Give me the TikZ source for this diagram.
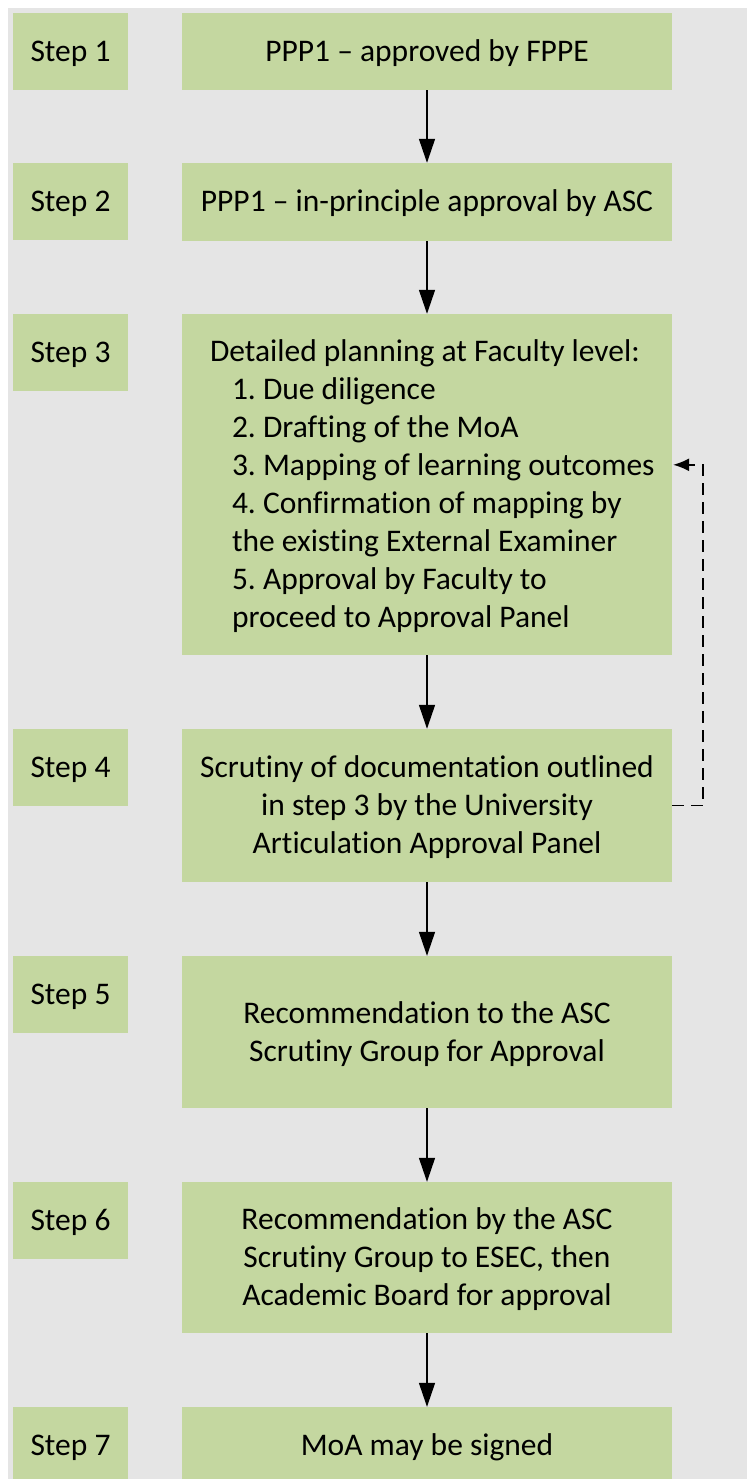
\documentclass[tikz,border=0pt]{standalone}
\usepackage{fontspec}
\setmainfont{Carlito}[Ligatures=NoCommon]
\usetikzlibrary{arrows.meta,calc}
\definecolor{boxgreen}{RGB}{196,215,160}
\definecolor{bggray}{RGB}{229,229,229}
\setlength\parindent{0pt}
\frenchspacing
\newcommand{\Sx}{\rule[-9pt]{0pt}{38pt}}
\newcommand{\Lx}[2]{\hbox to 490pt{\hspace*{#1}\Sx #2\hfil}}
\tikzset{
  txt/.style={font=\fontsize{31.5}{38}\selectfont, text=black},
  stepbox/.style={txt, fill=boxgreen, inner sep=0pt, minimum width=115pt, minimum height=77pt, align=center},
  mainbox/.style={txt, fill=boxgreen, inner sep=0pt, minimum width=490pt, align=center},
  flow/.style={line width=1.5pt, -{Triangle[length=24pt,width=16pt]}},
  back/.style={line width=1.5pt, dash pattern=on 12pt off 7pt, -{Latex[length=16pt,width=13pt]}}
}
\begin{document}
\begin{tikzpicture}[x=1pt,y=-1pt]
\useasboundingbox (0,0) rectangle (747,1479);
\clip (0,0) rectangle (747,1479);
\fill[bggray] (8,8) rectangle (747,1479);

% step labels
\node[stepbox] (s1) at (70.5,51.5) {\Sx Step 1};
\node[stepbox] (s2) at (70.5,202) {\Sx Step 2};
\node[stepbox] (s3) at (70.5,352.5) {\Sx Step 3};
\node[stepbox] (s4) at (70.5,767.5) {\Sx Step 4};
\node[stepbox] (s5) at (70.5,994.5) {\Sx Step 5};
\node[stepbox] (s6) at (70.5,1220.5) {\Sx Step 6};
\node[stepbox] (s7) at (70.5,1445.5) {\Sx Step 7};

% main boxes
\node[mainbox, minimum height=77pt] (m1) at (427,51.5) {\Sx PPP1 -- approved by FPPE};
\node[mainbox, minimum height=78pt] (m2) at (427,202) {\Sx PPP1 -- in-principle approval by ASC};
\node[mainbox, minimum height=341pt, align=left] (m3) at (427,484.5) {%
\Lx{28pt}{Detailed planning at Faculty level:}\\
\Lx{50pt}{1. Due diligence}\\
\Lx{50pt}{2. Drafting of the MoA}\\
\Lx{50pt}{3. Mapping of learning outcomes}\\
\Lx{50pt}{4. Confirmation of mapping by}\\
\Lx{50pt}{the existing External Examiner}\\
\Lx{50pt}{5. Approval by Faculty to}\\
\Lx{50pt}{proceed to Approval Panel}};
\node[mainbox, minimum height=153pt] (m4) at (427,805.5) {\Sx Scrutiny of documentation outlined\\\Sx in step 3 by the University\\\Sx Articulation Approval Panel};
\node[mainbox, minimum height=152pt] (m5) at (427,1032) {\Sx Recommendation to the ASC\\\Sx Scrutiny Group for Approval};
\node[mainbox, minimum height=151pt] (m6) at (427,1257.5) {\Sx Recommendation by the ASC\\\Sx Scrutiny Group to ESEC, then\\\Sx Academic Board for approval};
\node[mainbox, minimum height=77pt] (m7) at (427,1445.5) {\Sx MoA may be signed};

% connectors
\draw[flow] (m1.south) -- (m2.north);
\draw[flow] (m2.south) -- (m3.north);
\draw[flow] (m3.south) -- (m4.north);
\draw[flow] (m4.south) -- (m5.north);
\draw[flow] (m5.south) -- (m6.north);
\draw[flow] (m6.south) -- (m7.north);

\coordinate (fb) at ($(m3.north east)+(1,151)$);
\draw[back] (m4.east) -- ++(31,0) |- (fb);
\end{tikzpicture}
\end{document}
